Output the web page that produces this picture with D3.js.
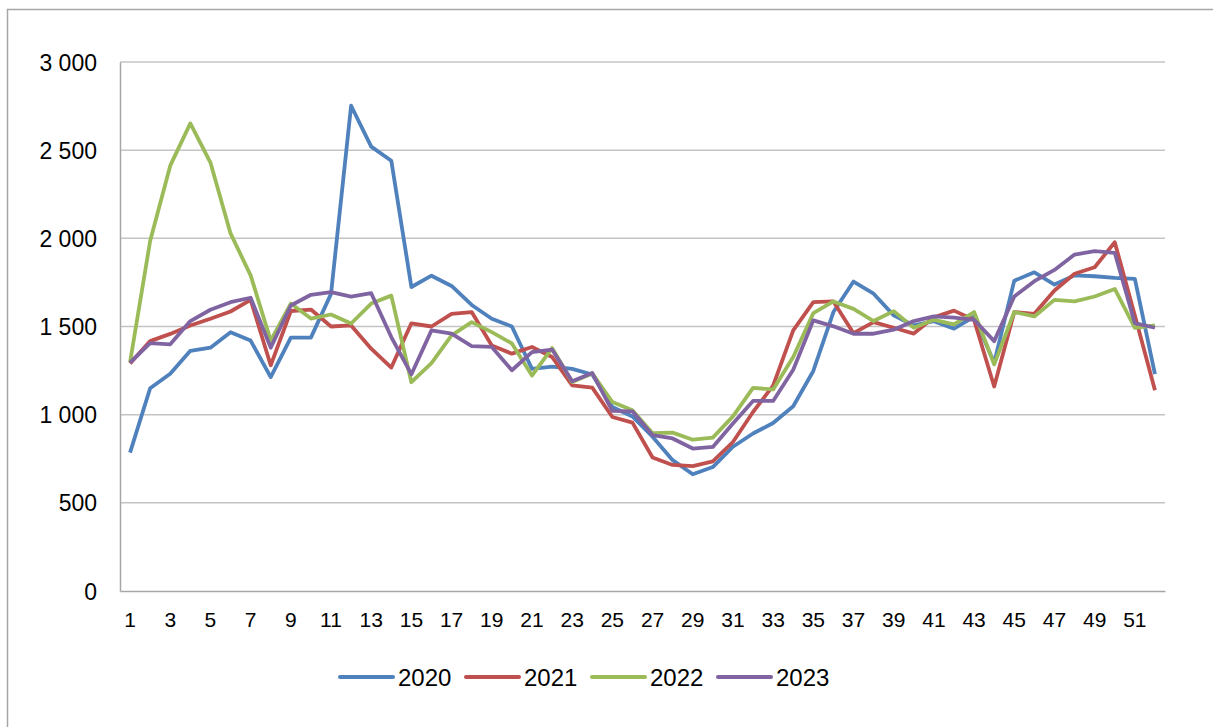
<!DOCTYPE html>
<html>
<head>
<meta charset="utf-8">
<script src="https://cdn.jsdelivr.net/npm/d3@7"></script>
<style>
  body { margin: 0; background: #fff; }
  text { font-family: "Liberation Sans", Arial, sans-serif; fill: #000; }
</style>
</head>
<body>
<script>
    // week numbers 1..52
    var weeks = d3.range(1, 53);
    var years = ['2020', '2021', '2022', '2023'];
    var colors = ['#4F81BD', '#C0504D', '#9BBB59', '#8064A2'];
    var yTicks = [0, 500, 1000, 1500, 2000, 2500, 3000];

    var v2020 = [785, 1150, 1232, 1362, 1380, 1468, 1420, 1213, 1437, 1437, 1685, 2752, 2520, 2440,
        1724, 1788, 1730, 1622, 1544, 1500, 1260, 1272, 1260, 1228, 1044, 990, 875, 742, 662, 703,
        818, 893, 953, 1048, 1248, 1582, 1755, 1686, 1563, 1506, 1530, 1488, 1556, 1295, 1760, 1807,
        1738, 1790, 1785, 1776, 1770, 1230];
    var v2021 = [1290, 1417, 1458, 1506, 1544, 1585, 1651, 1280, 1588, 1596, 1500, 1506, 1374, 1267,
        1518, 1500, 1572, 1582, 1392, 1346, 1384, 1327, 1166, 1153, 987, 955, 757, 715, 708, 735,
        845, 1015, 1165, 1478, 1638, 1642, 1462, 1525, 1493, 1460, 1552, 1590, 1537, 1160, 1582, 1572,
        1704, 1799, 1836, 1978, 1562, 1138];
    var v2022 = [1297, 1985, 2412, 2652, 2430, 2028, 1790, 1420, 1630, 1545, 1568, 1517, 1630, 1675,
        1184, 1292, 1450, 1525, 1468, 1404, 1222, 1378, 1185, 1234, 1072, 1025, 895, 898, 858, 870,
        990, 1152, 1143, 1327, 1576, 1642, 1600, 1531, 1587, 1493, 1538, 1512, 1582, 1285, 1582, 1557,
        1651, 1642, 1670, 1713, 1492, 1506];
    var v2023 = [1295, 1406, 1399, 1531, 1595, 1638, 1663, 1380, 1619, 1680, 1695, 1670, 1689, 1440,
        1229, 1478, 1459, 1389, 1384, 1252, 1355, 1369, 1189, 1236, 1021, 1019, 884, 865, 808, 817,
        950, 1078, 1078, 1255, 1535, 1501, 1459, 1459, 1482, 1531, 1557, 1550, 1538, 1417, 1670, 1757,
        1821, 1908, 1927, 1918, 1519, 1493];
    var series = [v2020, v2021, v2022, v2023];

    var W = 1213, H = 727;
    var plotL = 120, plotR = 1165, plotT = 62, plotB = 591;

    var svg = d3.select('body').append('svg')
            .attr('width', W)
            .attr('height', H);

    // chart outer border
    svg.append('rect')
            .attr('x', 7.5).attr('y', 9.5)
            .attr('width', 1230).attr('height', 740)
            .attr('fill', 'none')
            .attr('stroke', '#a6a6a6')
            .attr('stroke-width', 1.5);

    var x = d3.scaleBand().domain(weeks).range([plotL, plotR]);
    var y = d3.scaleLinear().domain([0, 3000]).range([plotB, plotT]);

    // gridlines
    svg.append('g')
            .selectAll('line')
            .data(yTicks.filter(function (d) { return d > 0; }))
            .enter().append('line')
            .attr('x1', plotL).attr('x2', plotR)
            .attr('y1', function (d) { return y(d); })
            .attr('y2', function (d) { return y(d); })
            .attr('stroke', '#c4c4c4')
            .attr('stroke-width', 1.5);

    // y axis
    var yAxis = svg.append('g')
            .attr('transform', 'translate(' + plotL + ',0)')
            .call(d3.axisLeft(y).tickValues(yTicks).tickSize(0).tickPadding(23)
                    .tickFormat(function (d) { return d3.format(',')(d).replace(',', ' '); }));
    yAxis.select('.domain').attr('stroke', '#a6a6a6').attr('stroke-width', 1.5);
    yAxis.selectAll('text').style('font-size', '23px').attr('dy', '0.35em');

    // x axis
    var xAxis = svg.append('g')
            .attr('transform', 'translate(0,' + plotB + ')')
            .call(d3.axisBottom(x).tickValues(weeks.filter(function (d) { return d % 2 === 1; }))
                    .tickSize(0).tickPadding(21));
    xAxis.select('.domain').attr('stroke', '#a6a6a6').attr('stroke-width', 1.5);
    xAxis.selectAll('text').style('font-size', '21px');

    // lines
    var line = d3.line()
            .x(function (d, i) { return x(weeks[i]) + x.bandwidth() / 2; })
            .y(function (d) { return y(d); });

    series.forEach(function (s, i) {
        svg.append('path')
                .datum(s)
                .attr('d', line)
                .attr('fill', 'none')
                .attr('stroke', colors[i])
                .attr('stroke-width', 3.8)
                .attr('stroke-linejoin', 'round');
    });

    // legend
    var legend = svg.append('g').attr('transform', 'translate(340,677)');
    years.forEach(function (yr, i) {
        var g = legend.append('g').attr('transform', 'translate(' + (i * 126) + ',0)');
        g.append('line')
                .attr('x1', 0).attr('x2', 53)
                .attr('stroke', colors[i])
                .attr('stroke-width', 4)
                .attr('stroke-linecap', 'round');
        g.append('text')
                .attr('x', 58).attr('dy', '0.36em')
                .style('font-size', '24px')
                .text(yr);
    });
</script>
</body>
</html>
